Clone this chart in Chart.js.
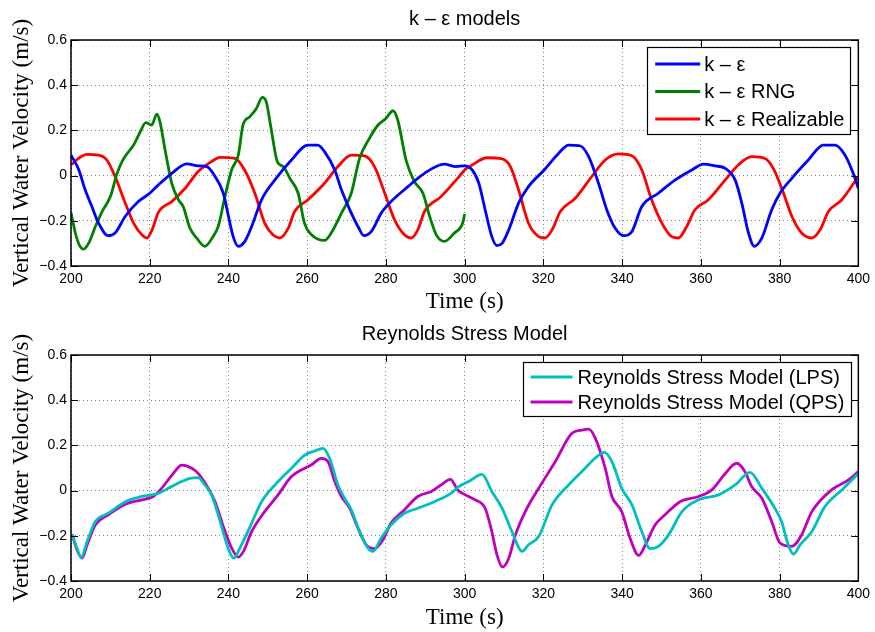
<!DOCTYPE html>
<html>
<head>
<meta charset="utf-8">
<script src="https://cdn.jsdelivr.net/npm/chart.js@4/dist/chart.umd.min.js"></script>
<style>
  html, body { margin: 0; padding: 0; background: #fff; }
  #wrap { position: relative; width: 875px; height: 632px; overflow: hidden; }
  canvas { position: absolute; left: 0; }
</style>
</head>
<body>
<div id="wrap">
  <canvas id="c1" width="875" height="316" style="top:0px"></canvas>
  <canvas id="c2" width="875" height="317" style="top:315px"></canvas>
</div>
<script>
// ---------------- data ----------------
const keT = [200,202,203.6,205.3,207,209.4,211.2,213.8,217.1,220,222.2,225.6,229.4,232.3,234.5,236.6,238.7,240,241.2,242.5,244.2,245.9,248.4,251.8,256,260.2,262.7,264.4,267,268.7,271.2,272.9,274.4,276.3,278.8,281.3,285.6,289.8,294.8,297.8,300,301.9,303.6,305.2,306.9,308.2,309.5,311.2,313.7,316.2,320.2,323.9,326.4,329.4,331.5,334,336.1,338.2,340.4,342.5,345,349.2,353.5,357.7,360.7,363.6,366.2,368.7,370.4,372.1,373.6,375.5,378,380.1,383.1,387.3,391.1,394.1,396.6,398.7,400];
const keV = [0.091,0.025,-0.063,-0.137,-0.21,-0.266,-0.254,-0.18,-0.115,-0.078,-0.041,0.01,0.052,0.043,0.04,-0.004,-0.078,-0.18,-0.27,-0.313,-0.29,-0.225,-0.107,-0.019,0.069,0.135,0.135,0.106,0.025,-0.063,-0.166,-0.225,-0.266,-0.247,-0.166,-0.115,-0.049,0.01,0.051,0.04,0.043,0.025,-0.034,-0.151,-0.27,-0.31,-0.30,-0.24,-0.122,-0.049,0.025,0.099,0.135,0.131,0.084,-0.034,-0.151,-0.232,-0.266,-0.247,-0.137,-0.078,-0.019,0.025,0.051,0.043,0.032,-0.019,-0.122,-0.254,-0.313,-0.276,-0.151,-0.078,-0.012,0.069,0.135,0.135,0.091,0.01,-0.056];

const rngT = [200,201.1,202.1,203.2,204.5,206.2,207.9,210,211.7,213.4,215.9,217.6,219,220.5,221.8,222.6,223.9,225.6,227.3,228.5,230.2,231.9,234,236.1,237.4,239.1,240.8,242.5,243.7,245.4,247.1,248.6,249.6,250.9,252.4,253.9,255.6,257.7,259.3,261.1,264.4,266.1,268.7,271.2,273.3,275.8,278,280,281.8,283,285.1,287.2,289.4,291.1,292.8,294.9,297.4,299.5,300];
const rngV = [-0.163,-0.254,-0.306,-0.325,-0.299,-0.225,-0.159,-0.093,0.01,0.076,0.135,0.194,0.234,0.224,0.272,0.238,0.113,-0.034,-0.107,-0.137,-0.232,-0.276,-0.313,-0.269,-0.225,-0.093,0.025,0.091,0.224,0.26,0.297,0.346,0.326,0.201,0.062,0.04,-0.012,-0.078,-0.21,-0.262,-0.287,-0.254,-0.166,-0.078,0.076,0.165,0.224,0.253,0.287,0.246,0.069,-0.026,-0.078,-0.18,-0.262,-0.291,-0.254,-0.21,-0.17];

const realT = [200,201.9,204,207,209.1,211.2,213.8,215.9,218,219.3,220.6,222.2,225.6,229,232.3,235.7,237.8,241.6,244.1,246.7,249.2,251.3,253,255.2,256.8,260.2,264.4,267.8,271.2,274.6,277.1,279.7,282.2,284.7,286.4,288.1,289.8,294,298.2,300,301.9,305.7,309.5,311.6,313.7,316.2,318.8,320.4,322.2,324.3,328.1,332.3,335.7,339.1,342.5,345,347.5,350.1,352.6,354.3,356.4,358.5,361.9,366.2,369.5,372.9,376.3,378.4,381,383.1,385.6,388.2,390.3,392.4,395.8,400];
const realV = [0.047,0.076,0.094,0.091,0.069,-0.004,-0.122,-0.21,-0.262,-0.276,-0.24,-0.163,-0.115,-0.056,0.018,0.062,0.081,0.076,0.025,-0.078,-0.21,-0.262,-0.276,-0.232,-0.159,-0.107,-0.034,0.04,0.091,0.087,0.04,-0.078,-0.196,-0.262,-0.276,-0.24,-0.159,-0.093,-0.012,0.025,0.047,0.079,0.074,0.04,-0.063,-0.21,-0.27,-0.276,-0.24,-0.159,-0.1,-0.004,0.069,0.096,0.088,0.025,-0.107,-0.21,-0.27,-0.276,-0.225,-0.151,-0.107,-0.019,0.047,0.084,0.076,0.032,-0.078,-0.18,-0.254,-0.276,-0.24,-0.159,-0.107,-0.004];

const lpsT = [200.3,201.5,202.6,204.1,206.2,209.5,213.8,218,222.2,224.7,228.1,230.2,232.3,234,235.7,237.4,239.1,240.4,241.4,242.9,245.5,248.4,252.6,256,259.4,261.9,264,265.7,267.8,269.5,271.2,273.3,275.4,276.7,278.8,281.3,284.7,288.1,292.3,296.5,298.5,301,304.4,306.9,309.5,312,314.6,316.2,318.8,322.2,326.4,330.6,333.1,335.5,337.4,339.9,342.5,345,347.1,349.2,351.8,355.2,359.4,364.5,368.7,372.5,375.5,378.8,380.5,382.2,383.5,385.2,388.2,391.5,395.8,400];
const lpsV = [-0.193,-0.254,-0.296,-0.225,-0.137,-0.1,-0.049,-0.026,-0.012,0.01,0.04,0.054,0.057,0.025,-0.019,-0.107,-0.21,-0.276,-0.299,-0.254,-0.159,-0.049,0.04,0.099,0.157,0.175,0.187,0.143,0.025,-0.034,-0.085,-0.181,-0.254,-0.269,-0.21,-0.151,-0.1,-0.078,-0.049,-0.012,0.018,0.04,0.072,-0.004,-0.078,-0.181,-0.269,-0.24,-0.203,-0.063,0.025,0.099,0.143,0.169,0.128,0.01,-0.063,-0.181,-0.257,-0.247,-0.196,-0.093,-0.041,-0.019,0.025,0.081,0.01,-0.078,-0.137,-0.24,-0.281,-0.24,-0.181,-0.071,0.003,0.076];

const qpsT = [200.3,201.5,202.8,204.1,206.2,209.5,213.8,218,220.9,223,226,228.1,230.7,232.3,234.9,236.6,238.7,240.8,242.5,243.8,245.9,249.2,252.6,256,259.4,261,263.6,265.3,267,268.7,270.8,272.9,275,277.1,279.2,281.3,284.7,288.1,291.5,294,296.4,298.2,300.2,302.7,305.2,306.9,308.2,309.6,311.2,312.9,315.4,318.8,323,327.2,329.8,331.5,333.2,335.7,337.4,339.9,342,344.2,345.9,348.4,350.9,354.7,359.4,362.8,366.2,369.1,371.2,372.9,375.5,378,380.1,383.1,385.6,388.2,393.2,397.5,400];
const qpsV = [-0.193,-0.262,-0.299,-0.24,-0.151,-0.107,-0.06,-0.041,-0.026,0.01,0.076,0.113,0.099,0.076,0.01,-0.049,-0.159,-0.254,-0.294,-0.269,-0.181,-0.093,-0.019,0.062,0.099,0.113,0.143,0.128,0.04,-0.026,-0.078,-0.166,-0.24,-0.257,-0.218,-0.144,-0.085,-0.026,-0.004,0.025,0.05,0.003,-0.019,-0.041,-0.078,-0.181,-0.284,-0.338,-0.299,-0.196,-0.093,0.01,0.128,0.253,0.268,0.272,0.231,0.099,-0.026,-0.093,-0.21,-0.287,-0.24,-0.151,-0.107,-0.049,-0.026,0.003,0.076,0.121,0.084,0.018,-0.034,-0.137,-0.232,-0.247,-0.196,-0.093,0.003,0.047,0.084];

const topTitle = 'k \u2013 \u03b5 models';
const bottomTitle = 'Reynolds Stress Model';
const topLabels = ['k \u2013 \u03b5', 'k \u2013 \u03b5 RNG', 'k \u2013 \u03b5 Realizable'];
const bottomLabels = ['Reynolds Stress Model (LPS)', 'Reynolds Stress Model (QPS)'];
const xAxisTitle = 'Time (s)';
const yAxisTitle = 'Vertical Water Velocity (m/s)';
const xMin = 200, xMax = 400, xStep = 20;
const yMin = -0.4, yMax = 0.6, yStep = 0.2;

// ---------------- helpers ----------------
function pts(t, v) { return t.map((x, i) => ({ x: x, y: v[i] })); }
function ds(label, t, v, color) {
  return { label: label, data: pts(t, v), borderColor: color, backgroundColor: color,
           borderWidth: 2.8, pointRadius: 0, fill: false, cubicInterpolationMode: 'monotone' };
}

// title over plot area, frame, inward ticks, boxed legend inside plot
const matlabPlugin = {
  id: 'matlab',
  afterDraw(chart, args, opts) {
    const ctx = chart.ctx, a = chart.chartArea;
    const xs = chart.scales.x, ys = chart.scales.y;
    ctx.save();
    // title centred over the plot area
    ctx.fillStyle = '#000';
    ctx.font = opts.titleFont;
    ctx.textAlign = 'center';
    ctx.textBaseline = 'middle';
    ctx.fillText(opts.title, (a.left + a.right) / 2, opts.titleY);

    ctx.strokeStyle = '#000';
    ctx.lineWidth = 1;
    ctx.beginPath();
    xs.ticks.forEach(tk => {
      const px = Math.round(xs.getPixelForValue(tk.value)) + 0.5;
      ctx.moveTo(px, a.bottom); ctx.lineTo(px, a.bottom - 7);
      ctx.moveTo(px, a.top); ctx.lineTo(px, a.top + 7);
    });
    ys.ticks.forEach(tk => {
      const py = Math.round(ys.getPixelForValue(tk.value)) + 0.5;
      ctx.moveTo(a.left, py); ctx.lineTo(a.left + 7, py);
      ctx.moveTo(a.right, py); ctx.lineTo(a.right - 7, py);
    });
    ctx.stroke();
    ctx.lineWidth = 1.5;
    ctx.strokeRect(a.left, a.top, a.right - a.left, a.bottom - a.top);

    // legend
    const items = chart.data.datasets;
    ctx.font = opts.font;
    let tw = 0;
    items.forEach(d => { tw = Math.max(tw, ctx.measureText(d.label).width); });
    const boxRight = a.right - 8;
    const boxW = 8 + opts.lineLen + opts.gap + tw + 6;
    const boxLeft = boxRight - boxW;
    const boxTop = a.top + 7;
    const boxH = opts.padTop + opts.rowH * (items.length - 1) + opts.padBottom;
    ctx.fillStyle = '#fff';
    ctx.fillRect(boxLeft, boxTop, boxW, boxH);
    ctx.lineWidth = 1.2;
    ctx.strokeStyle = '#000';
    ctx.strokeRect(Math.round(boxLeft) + 0.5, Math.round(boxTop) + 0.5, Math.round(boxW), Math.round(boxH));
    items.forEach((d, i) => {
      const cy = boxTop + opts.padTop + i * opts.rowH;
      ctx.strokeStyle = d.borderColor;
      ctx.lineWidth = 2.8;
      ctx.beginPath();
      ctx.moveTo(boxLeft + 8, cy); ctx.lineTo(boxLeft + 8 + opts.lineLen, cy);
      ctx.stroke();
      ctx.fillStyle = '#000';
      ctx.textBaseline = 'middle';
      ctx.textAlign = 'left';
      ctx.fillText(d.label, boxLeft + 8 + opts.lineLen + opts.gap, cy + 1);
    });
    ctx.restore();
  }
};

function fmtY(v) {
  const r = Math.round(v * 10) / 10;
  if (r === 0) return '0';
  return (r < 0 ? '\u2212' : '') + Math.abs(r).toFixed(1);
}

function makeChart(id, datasets, xH, pluginOpts) {
  return new Chart(document.getElementById(id), {
    type: 'line',
    data: { datasets: datasets },
    plugins: [matlabPlugin],
    options: {
      responsive: false,
      animation: false,
      events: [],
      layout: { padding: { left: 0, right: 14, top: 40, bottom: 0 } },
      plugins: {
        legend: { display: false },
        tooltip: { enabled: false },
        title: { display: false },
        matlab: pluginOpts
      },
      scales: {
        x: {
          type: 'linear', min: xMin, max: xMax,
          afterFit(s) { s.height = xH; },
          ticks: { stepSize: xStep, color: '#000', padding: 5,
                   font: { family: 'Liberation Sans, Arial, sans-serif', size: 14 } },
          grid: { color: '#666', lineWidth: 0.8, drawTicks: false },
          border: { display: false, dash: [1, 3] },
          title: { display: true, text: xAxisTitle, color: '#000', padding: { top: 0, bottom: 0 },
                   font: { family: 'Liberation Serif, Times New Roman, serif', size: 23 } }
        },
        y: {
          type: 'linear', min: yMin, max: yMax,
          afterFit(s) { s.width = 71; },
          ticks: { stepSize: yStep, color: '#000', padding: 4, callback: fmtY,
                   font: { family: 'Liberation Sans, Arial, sans-serif', size: 14 } },
          grid: { color: '#666', lineWidth: 0.8, drawTicks: false },
          border: { display: false, dash: [1, 3] },
          title: { display: true, text: yAxisTitle, color: '#000', padding: { top: 8, bottom: 0 },
                   font: { family: 'Liberation Serif, Times New Roman, serif', size: 23 } }
        }
      }
    }
  });
}

const titleFont = '20px "Liberation Sans", Arial, sans-serif';
const legendFont = '20px "Liberation Sans", Arial, sans-serif';

makeChart('c1', [
  ds(topLabels[0], keT, keV, '#0000ff'),
  ds(topLabels[1], rngT, rngV, '#008000'),
  ds(topLabels[2], realT, realV, '#ff0000')
], 50, { title: topTitle, titleFont: titleFont, titleY: 19,
         font: legendFont, lineLen: 45, gap: 4, padTop: 17, rowH: 27.5, padBottom: 15 });

makeChart('c2', [
  ds(bottomLabels[0], lpsT, lpsV, '#00bfbf'),
  ds(bottomLabels[1], qpsT, qpsV, '#bf00bf')
], 51, { title: bottomTitle, titleFont: titleFont, titleY: 19,
         font: legendFont, lineLen: 42, gap: 5, padTop: 15, rowH: 25, padBottom: 14 });
</script>
</body>
</html>
